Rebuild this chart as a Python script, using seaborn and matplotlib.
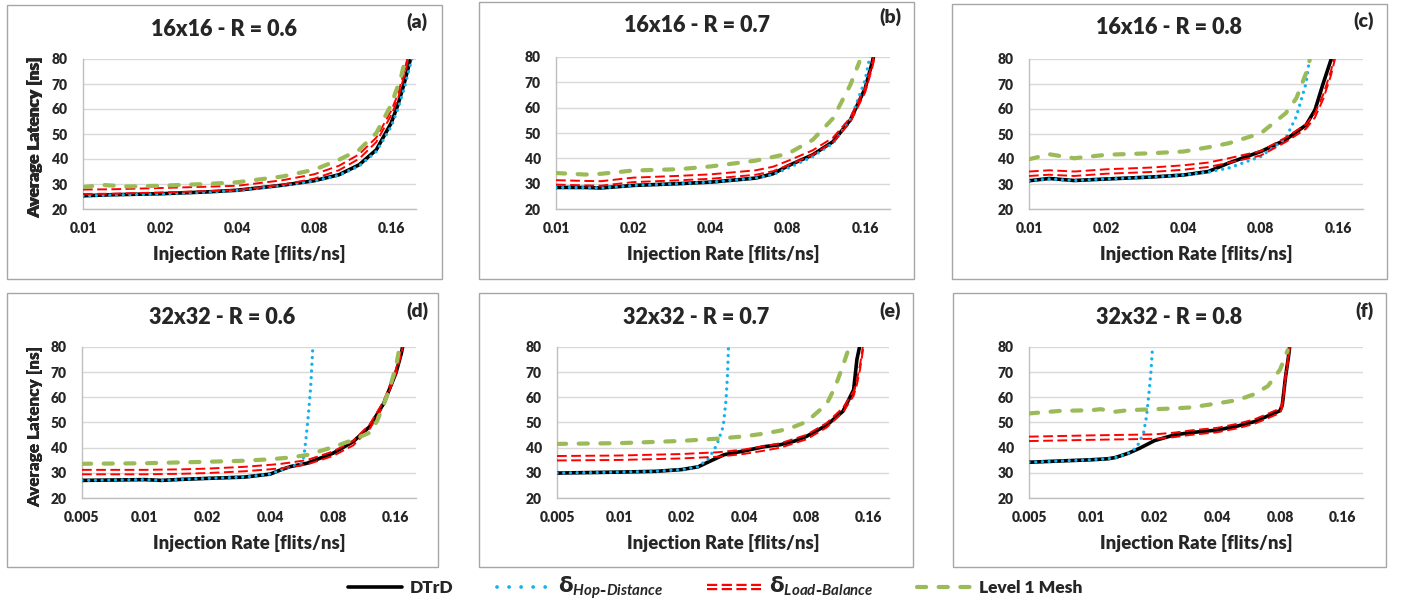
import matplotlib
matplotlib.use("Agg")
import matplotlib.pyplot as plt
import seaborn as sns
from matplotlib.lines import Line2D
from matplotlib.legend_handler import HandlerTuple
from matplotlib.patches import Rectangle
from matplotlib.ticker import NullLocator
from matplotlib.transforms import offset_copy

sns.set_style("white")
plt.rcParams["font.family"] = ["Lato", "DejaVu Sans"]
plt.rcParams["font.weight"] = "heavy"
plt.rcParams["axes.labelweight"] = "heavy"
plt.rcParams["mathtext.fontset"] = "custom"
plt.rcParams["mathtext.rm"] = "DejaVu Sans:bold"
plt.rcParams["mathtext.it"] = "Lato:italic:bold"
plt.rcParams["mathtext.bf"] = "DejaVu Sans:bold"

# ---------------------------------------------------------------- data
TITLES = ["16x16 - R = 0.6", "16x16 - R = 0.7", "16x16 - R = 0.8",
          "32x32 - R = 0.6", "32x32 - R = 0.7", "32x32 - R = 0.8"]
TAGS = ["(a)", "(b)", "(c)", "(d)", "(e)", "(f)"]
XT_16 = [0.01, 0.02, 0.04, 0.08, 0.16]
XT_16_LABELS = ["0.01", "0.02", "0.04", "0.08", "0.16"]
XT_32 = [0.005, 0.01, 0.02, 0.04, 0.08, 0.16]
XT_32_LABELS = ["0.005", "0.01", "0.02", "0.04", "0.08", "0.16"]
LEGEND_LABELS = ["DTrD", r"$\mathrm{\delta}_{Hop‐Distance}$",
                 r"$\mathrm{\delta}_{Load‐Balance}$", "Level 1 Mesh"]

# (a) 16x16, R = 0.6
A_X = [0.01, 0.013, 0.02, 0.03, 0.04, 0.06, 0.08, 0.1, 0.12, 0.14, 0.16, 0.17, 0.18, 0.19, 0.2]
A_DTRD = [25.3, 25.7, 26.1, 26.8, 27.5, 29.5, 31.3, 33.7, 37.7, 43.7, 54.4, 61.7, 70.4, 79.7, 90]
A_HOP = [25.3, 25.6, 26.0, 26.7, 27.4, 29.4, 31.2, 33.5, 37.2, 43.0, 53.0, 60.0, 68.4, 77.7, 86]
A_LB = [26.9, 27.0, 27.5, 28.0, 28.4, 30.6, 33.0, 36.4, 41.0, 47.7, 58.4, 65.0, 74.4, 84, 95]
A_MESH_X = [0.01, 0.012, 0.015, 0.02, 0.03, 0.04, 0.06, 0.08, 0.1, 0.12, 0.14, 0.16, 0.175, 0.182]
A_MESH = [28.8, 29.6, 29.0, 29.3, 30.0, 30.7, 33.0, 35.7, 39.7, 43.7, 50.4, 61.7, 73.0, 80.5]

# (b) 16x16, R = 0.7
B_X = [0.01, 0.013, 0.015, 0.02, 0.03, 0.04, 0.06, 0.07, 0.08, 0.1, 0.12, 0.14, 0.16, 0.17, 0.18]
B_DTRD = [28.5, 28.5, 28.3, 29.3, 30.0, 30.6, 32.2, 33.9, 37.0, 41.4, 46.6, 55.1, 67.6, 77.4, 88]
B_HOP = [28.5, 28.5, 28.3, 29.3, 30.0, 30.6, 32.2, 33.6, 36.1, 40.7, 46.0, 55.1, 70.9, 84, 95]
B_LB = [30.5, 30.2, 30.1, 31.5, 32.2, 32.8, 34.4, 35.8, 38.1, 42.3, 47.3, 55.1, 66.9, 76.1, 87]
B_MESH_X = [0.01, 0.013, 0.015, 0.02, 0.03, 0.04, 0.06, 0.08, 0.1, 0.12, 0.14, 0.152]
B_MESH = [34.2, 33.6, 33.9, 35.2, 35.7, 36.8, 39.1, 41.8, 47.3, 55.8, 68.9, 78.1]

# (c) 16x16, R = 0.8
C_X = [0.01, 0.012, 0.015, 0.02, 0.03, 0.04, 0.05, 0.06, 0.08, 0.1, 0.12, 0.13, 0.14, 0.15, 0.16]
C_DTRD = [31.3, 32.2, 31.4, 32.0, 32.8, 33.6, 35.0, 38.4, 43.0, 47.7, 53.6, 59.6, 70.3, 79.6, 92]
C_LB = [34.1, 34.6, 34.1, 35.0, 35.7, 36.6, 37.7, 39.4, 42.3, 47.7, 53.0, 57.5, 64.9, 74.3, 86]
C_END_X = [0.01, 0.012, 0.015, 0.02, 0.03, 0.04, 0.05, 0.06, 0.08, 0.1, 0.11, 0.12, 0.124]
C_HOP = [31.3, 32.0, 31.4, 32.0, 32.8, 33.6, 34.8, 36.4, 41.0, 48.3, 57.0, 70.3, 80.5]
C_MESH = [39.9, 41.9, 40.3, 41.7, 42.3, 43.0, 44.7, 46.3, 50.3, 58.3, 64.3, 74.3, 79.6]

# (d) 32x32, R = 0.6
D_X = [0.005, 0.01, 0.012, 0.015, 0.02, 0.03, 0.04, 0.045, 0.05, 0.06, 0.08, 0.1, 0.12, 0.14, 0.16, 0.17, 0.18]
D_DTRD = [27.0, 27.3, 27.0, 27.4, 27.8, 28.3, 29.5, 31.2, 32.5, 33.8, 37.8, 42.4, 48.4, 57.6, 69.5, 77.4, 88]
D_LB = [30.3, 30.3, 30.4, 30.5, 30.8, 31.5, 32.3, 32.7, 33.2, 34.2, 37.6, 41.8, 48.4, 57.6, 70.1, 78.0, 89]
D_HOP_X = [0.005, 0.01, 0.012, 0.015, 0.02, 0.03, 0.04, 0.045, 0.05, 0.056, 0.058, 0.0595, 0.061, 0.0625, 0.064]
D_HOP = [27.0, 27.3, 27.0, 27.4, 27.8, 28.3, 29.5, 31.2, 32.5, 33.4, 36.5, 44.4, 53.6, 64.2, 80.0]
D_MESH_X = [0.005, 0.01, 0.02, 0.03, 0.04, 0.05, 0.06, 0.08, 0.1, 0.12, 0.13, 0.14, 0.15, 0.16, 0.167]
D_MESH = [33.6, 33.8, 34.4, 34.8, 35.4, 36.1, 37.1, 40.2, 43.1, 46.0, 50.5, 57.0, 64.0, 72.0, 80.0]

# (e) 32x32, R = 0.7
E_X = [0.005, 0.01, 0.015, 0.02, 0.024, 0.028, 0.032, 0.04, 0.05, 0.06, 0.07, 0.08, 0.1, 0.12, 0.135, 0.14, 0.145]
E_DTRD = [29.9, 30.3, 30.6, 31.3, 32.4, 35.0, 37.2, 38.7, 40.4, 41.2, 42.6, 44.5, 48.9, 54.5, 63.0, 75.0, 81.0]
E_HOP_X = [0.005, 0.01, 0.015, 0.02, 0.024, 0.027, 0.0295, 0.0317, 0.0327, 0.0333, 0.0336]
E_HOP = [29.9, 30.3, 30.6, 31.3, 32.4, 35.8, 41.0, 48.4, 58.9, 70.0, 80.0]
E_LB_X = [0.005, 0.01, 0.02, 0.03, 0.04, 0.05, 0.06, 0.08, 0.1, 0.12, 0.135, 0.14, 0.145, 0.15, 0.155]
E_LB = [35.8, 36.0, 36.6, 37.3, 38.4, 39.7, 40.9, 44.2, 48.9, 55.0, 61.5, 66.0, 72.0, 80.0, 86.0]
E_MESH_X = [0.005, 0.01, 0.015, 0.02, 0.03, 0.04, 0.05, 0.06, 0.07, 0.08, 0.1, 0.11, 0.12, 0.127]
E_MESH = [41.5, 41.8, 42.3, 42.7, 43.6, 44.5, 45.6, 46.8, 48.4, 50.3, 57.3, 64.2, 72.7, 78.7]

# (f) 32x32, R = 0.8
F_X = [0.005, 0.007, 0.01, 0.012, 0.013, 0.015, 0.017, 0.02, 0.025, 0.03, 0.04, 0.05, 0.06, 0.07, 0.08, 0.082, 0.085, 0.088, 0.09]
F_DTRD = [34.2, 34.7, 35.2, 35.6, 36.1, 37.8, 39.8, 42.8, 45.1, 46.0, 47.0, 48.6, 50.3, 52.6, 54.7, 56.9, 68.1, 76.7, 84.0]
F_HOP_X = [0.005, 0.007, 0.01, 0.012, 0.013, 0.015, 0.0164, 0.0177, 0.0183, 0.0188, 0.0192, 0.0195]
F_HOP = [34.2, 34.7, 35.2, 35.6, 36.1, 37.8, 40.0, 45.7, 52.3, 61.5, 69.5, 78.0]
F_LB_X = [0.005, 0.01, 0.02, 0.025, 0.03, 0.04, 0.05, 0.06, 0.07, 0.08, 0.082, 0.085, 0.088, 0.09]
F_LB = [43.5, 44.0, 44.4, 45.1, 46.0, 47.0, 48.6, 50.3, 52.6, 54.7, 56.9, 68.1, 76.7, 84.0]
F_MESH_X = [0.005, 0.007, 0.01, 0.011, 0.013, 0.015, 0.02, 0.025, 0.03, 0.04, 0.05, 0.06, 0.07, 0.08, 0.087]
F_MESH = [53.6, 54.6, 54.9, 55.3, 54.3, 54.9, 55.3, 55.6, 56.0, 57.6, 58.9, 61.2, 64.5, 71.0, 78.7]

PANEL_DATA = [
    {"DTrD": (A_X, A_DTRD), "Hop": (A_X, A_HOP), "LB": (A_X, A_LB), "Mesh": (A_MESH_X, A_MESH)},
    {"DTrD": (B_X, B_DTRD), "Hop": (B_X, B_HOP), "LB": (B_X, B_LB), "Mesh": (B_MESH_X, B_MESH)},
    {"DTrD": (C_X, C_DTRD), "Hop": (C_END_X, C_HOP), "LB": (C_X, C_LB), "Mesh": (C_END_X, C_MESH)},
    {"DTrD": (D_X, D_DTRD), "Hop": (D_HOP_X, D_HOP), "LB": (D_X, D_LB), "Mesh": (D_MESH_X, D_MESH)},
    {"DTrD": (E_X, E_DTRD), "Hop": (E_HOP_X, E_HOP), "LB": (E_LB_X, E_LB), "Mesh": (E_MESH_X, E_MESH)},
    {"DTrD": (F_X, F_DTRD), "Hop": (F_HOP_X, F_HOP), "LB": (F_LB_X, F_LB), "Mesh": (F_MESH_X, F_MESH)},
]

# ---------------------------------------------------------------- layout (pixels)
W, H = 1411, 600
AX_PIX = [(83, 59, 416, 209), (556, 57, 890, 209), (1029, 59, 1363, 209),
          (82, 347, 416, 498), (557, 347, 889, 498), (1029, 347, 1363, 498)]
BOX_PIX = [(7, 5, 442, 279), (479, 2, 914, 279), (952, 4, 1387, 279),
           (7, 293, 438, 567), (479, 293, 913, 567), (953, 293, 1386, 567)]
TITLE_Y = [29, 25, 28, 317, 317, 317]
TAG_POS = [(417, 22), (890, 17), (1364, 21), (417, 311), (890, 311), (1364, 311)]

BLACK, BLUE, RED, GREEN = "#000000", "#14b1ef", "#ff0000", "#9bbb59"
STYLE = {
    "DTrD": dict(color=BLACK, lw=2.6, linestyle="-"),
    "Hop": dict(color=BLUE, lw=2.4, linestyle=(0, (0.01, 2.0)), dash_capstyle="round"),
    "Mesh": dict(color=GREEN, lw=3.0, linestyle=(0, (2.2, 3.0)), dash_capstyle="round"),
}
LB_STYLE = dict(color=RED, lw=1.4, linestyle=(0, (5.0, 2.3)))

fig = plt.figure(figsize=(W / 100, H / 100), dpi=100)


def px(x, y):
    return x / W, 1 - y / H


for i, data in enumerate(PANEL_DATA):
    l, t, r, b = AX_PIX[i]
    ax = fig.add_axes([l / W, 1 - b / H, (r - l) / W, (b - t) / H])
    ax.set_xscale("log", base=2)

    x, y = data["DTrD"]
    sns.lineplot(x=x, y=y, ax=ax, **STYLE["DTrD"], zorder=3)
    x, y = data["Hop"]
    sns.lineplot(x=x, y=y, ax=ax, **STYLE["Hop"], zorder=4)
    # double red line: two thin dashed copies shifted up and down
    x, y = data["LB"]
    for dy in (1.6, -1.6):
        tr = offset_copy(ax.transData, fig=fig, x=0, y=dy, units="points")
        sns.lineplot(x=x, y=y, ax=ax, **LB_STYLE, transform=tr, zorder=5)
    x, y = data["Mesh"]
    sns.lineplot(x=x, y=y, ax=ax, **STYLE["Mesh"], zorder=6)

    if i < 3:
        ax.set_xlim(0.01, 0.2)
        ax.set_xticks(XT_16, labels=XT_16_LABELS)
    else:
        ax.set_xlim(0.005, 0.2)
        ax.set_xticks(XT_32, labels=XT_32_LABELS)
    ax.xaxis.set_minor_locator(NullLocator())
    ax.set_ylim(20, 80)
    ax.set_yticks(range(20, 81, 10))

    ax.set_axisbelow(True)
    ax.yaxis.grid(True, color="#d9d9d9", lw=1.0)
    ax.xaxis.grid(False)
    for s in ["top", "right"]:
        ax.spines[s].set_visible(False)
    for s in ["left", "bottom"]:
        ax.spines[s].set_color("#bfbfbf")
        ax.spines[s].set_linewidth(1.0)
    ax.tick_params(axis="x", length=0, labelsize=10, pad=9)
    ax.tick_params(axis="y", length=0, labelsize=10, pad=11)

    ax.set_xlabel("Injection Rate [flits/ns]", fontsize=13.3)
    ax.set_ylabel("Average Latency [ns]", fontsize=12.3)
    ax.xaxis.set_label_coords(0.5, -36 / (b - t))
    ax.yaxis.set_label_coords((43 - l) / (r - l), 0.475)

    bl, bt, br, bb = BOX_PIX[i]
    fig.add_artist(Rectangle(px(bl, bb), (br - bl) / W, (bb - bt) / H,
                             transform=fig.transFigure, fill=False,
                             edgecolor="#a6a6a6", lw=1.0))
    fig.text(*px((bl + br) / 2, TITLE_Y[i]), TITLES[i], ha="center", va="center",
             fontsize=15.5)
    fig.text(*px(*TAG_POS[i]), TAGS[i], ha="center", va="center", fontsize=14)

# ---------------------------------------------------------------- legend
h_dtrd = Line2D([], [], **STYLE["DTrD"])
h_hop = Line2D([], [], color=BLUE, lw=2.7, linestyle=(0, (0.01, 3.2)),
               dash_capstyle="round")
h_lb = (Line2D([], [], color=RED, lw=4.6, linestyle=(0, (1.6, 0.7))),
        Line2D([], [], color="white", lw=1.4))
h_mesh = Line2D([], [], **STYLE["Mesh"])
leg = fig.legend([h_dtrd, h_hop, h_lb, h_mesh], LEGEND_LABELS, loc="center",
                 bbox_to_anchor=(715 / W, 1 - 588 / H), ncol=4, frameon=False,
                 fontsize=12.5, handlelength=3.1, handletextpad=0.45,
                 columnspacing=2.5, borderpad=0.2,
                 handler_map={tuple: HandlerTuple(ndivide=1)})
for t in leg.get_texts()[1:3]:
    t.set_fontsize(15.5)

fig.savefig("out.png", dpi=100)
